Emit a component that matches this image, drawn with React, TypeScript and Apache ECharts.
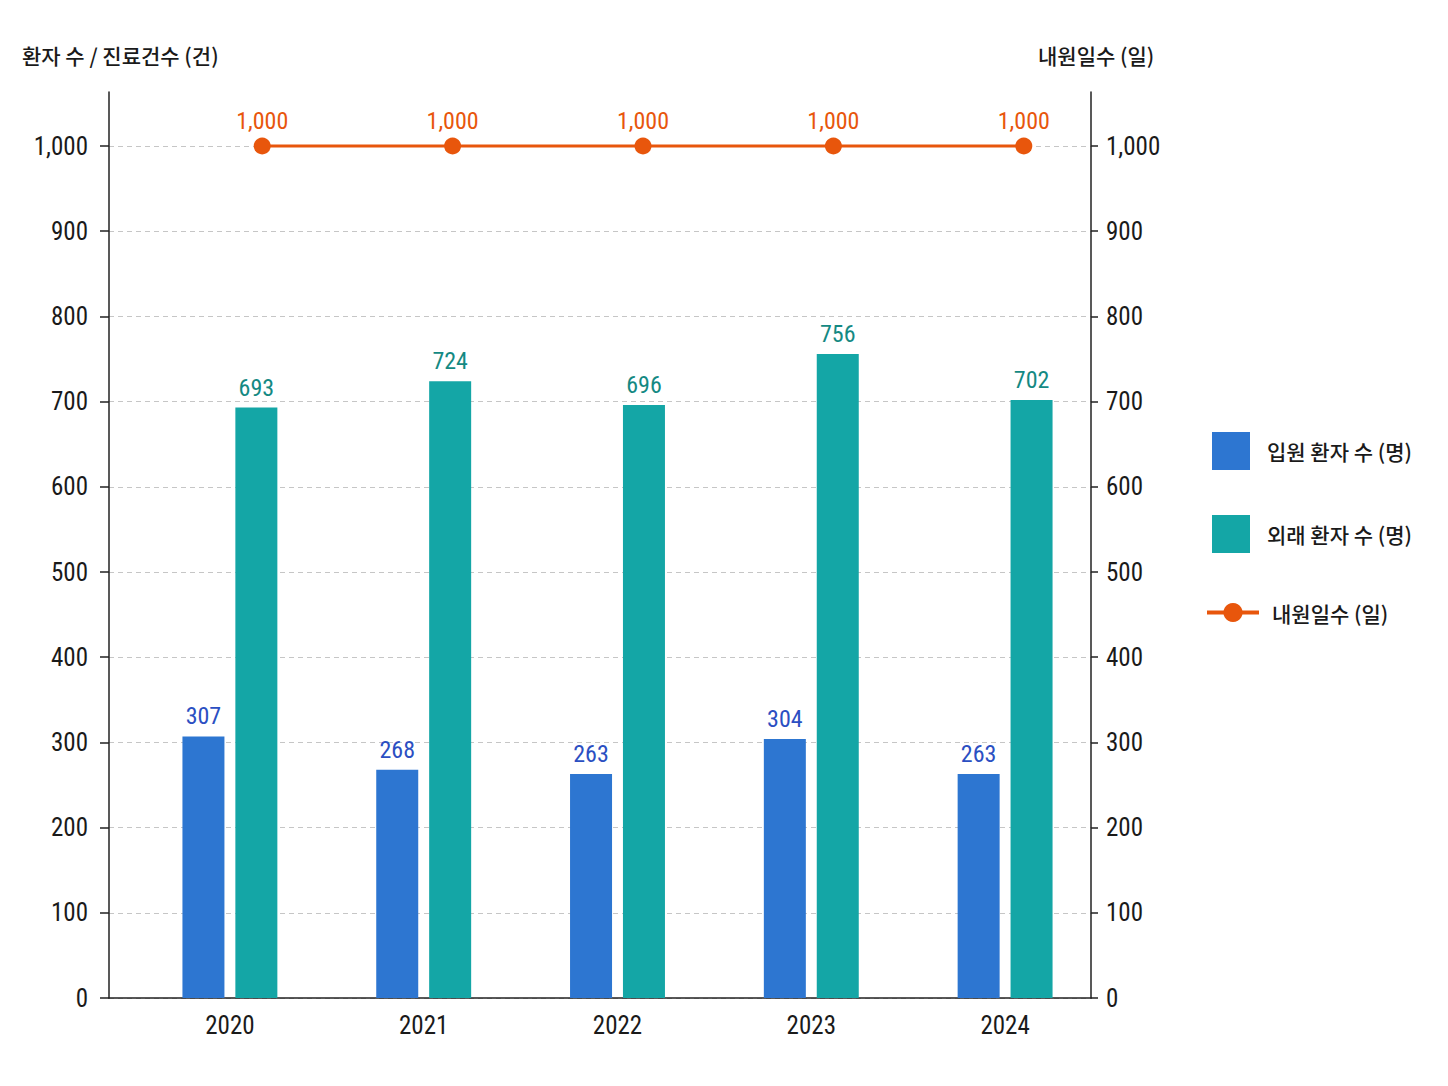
import React, { useEffect, useRef } from "react";
import * as echarts from "echarts";

const years = ["2020", "2021", "2022", "2023", "2024"];
const inpatients = [307, 268, 263, 304, 263];
const outpatients = [693, 724, 696, 756, 702];
const visitDays = [1000, 1000, 1000, 1000, 1000];
const axisMin = 0;
const axisMax = 1000;
const axisInterval = 100;

const seriesNames = ["입원 환자 수 (명)", "외래 환자 수 (명)", "내원일수 (일)"];
const leftAxisName = "환자 수 / 진료건수 (건)";
const rightAxisName = "내원일수 (일)";

const NUM_FONT = "'Roboto Condensed', 'Roboto', sans-serif";
const KR_FONT = "'Noto Sans CJK KR', 'Noto Sans', sans-serif";
const BLUE = "#2D76D1";
const TEAL = "#14A6A6";
const ORANGE = "#E8560C";

const fmt = (v: number) => v.toLocaleString("en-US");

export default function App() {
  const ref = useRef<HTMLDivElement>(null);
  useEffect(() => {
    document.body.style.margin = "0";
    if (!ref.current) return;
    const chart = echarts.init(ref.current, null, { renderer: "svg" });
    const hiddenCat = (gridIndex: number) => ({
      gridIndex,
      type: "category",
      data: years,
      show: false,
    });
    const hiddenVal = (gridIndex: number) => ({
      gridIndex,
      type: "value",
      min: axisMin,
      max: axisMax,
      show: false,
    });
    const tickLabel = {
      fontFamily: NUM_FONT,
      fontSize: 25,
      color: "#1a1a1a",
      formatter: (v: number) => fmt(v),
    };
    const krTitle = { fontFamily: KR_FONT, fontSize: 21, fontWeight: 500, color: "#1a1a1a" };
    chart.setOption({
      animation: false,
      backgroundColor: "#ffffff",
      title: [
        { text: leftAxisName, left: 22, top: 44, padding: 0, textStyle: krTitle },
        { text: rightAxisName, left: 1038, top: 44, padding: 0, textStyle: krTitle },
      ],
      legend: [
        {
          data: [seriesNames[0], seriesNames[1]],
          orient: "vertical",
          left: 1212,
          top: 432,
          padding: 0,
          itemWidth: 38,
          itemHeight: 38,
          itemGap: 45,
          icon: "rect",
          textStyle: { fontFamily: KR_FONT, fontSize: 21, fontWeight: 500, color: "#1a1a1a", padding: [0, 0, 0, 12] },
        },
        {
          data: [seriesNames[2]],
          orient: "vertical",
          left: 1205,
          top: 602,
          padding: 0,
          itemWidth: 52,
          itemHeight: 24,
          lineStyle: { width: 4 },
          textStyle: { fontFamily: KR_FONT, fontSize: 21, fontWeight: 500, color: "#1a1a1a", padding: [0, 0, 0, 8] },
        },
      ],
      grid: [
        { left: 109, right: 357, top: 92, bottom: 88 },
        { left: 109, right: 357, top: 146, bottom: 88 },
        { left: 133, right: 346, top: 146, bottom: 88 },
        { left: 167, right: 329, top: 146, bottom: 88 },
      ],
      xAxis: [
        {
          gridIndex: 0,
          type: "category",
          data: years,
          axisLine: { show: true, lineStyle: { color: "#222", width: 1.5 } },
          axisTick: { show: false },
          axisLabel: { show: false },
          splitLine: { show: false },
        },
        hiddenCat(1),
        {
          gridIndex: 2,
          type: "category",
          data: years,
          axisLine: { show: false },
          axisTick: { show: false },
          axisLabel: { fontFamily: NUM_FONT, fontSize: 25, color: "#1a1a1a", margin: 15 },
          splitLine: { show: false },
        },
        hiddenCat(3),
      ],
      yAxis: [
        {
          gridIndex: 0,
          type: "value",
          position: "left",
          min: 0,
          max: 1,
          axisLine: { show: true, lineStyle: { color: "#222", width: 1.5 } },
          axisTick: { show: false },
          axisLabel: { show: false },
          splitLine: { show: false },
        },
        {
          gridIndex: 0,
          type: "value",
          position: "right",
          min: 0,
          max: 1,
          axisLine: { show: true, lineStyle: { color: "#222", width: 1.5 } },
          axisTick: { show: false },
          axisLabel: { show: false },
          splitLine: { show: false },
        },
        {
          gridIndex: 1,
          type: "value",
          position: "left",
          min: axisMin,
          max: axisMax,
          interval: axisInterval,
          axisLine: { show: false },
          axisTick: { show: true, length: 9, lineStyle: { color: "#222", width: 1.5 } },
          axisLabel: { ...tickLabel, margin: 21 },
          splitLine: { show: true, lineStyle: { color: "#c6c6c6", width: 1, type: [5, 4] } },
        },
        {
          gridIndex: 1,
          type: "value",
          position: "right",
          min: axisMin,
          max: axisMax,
          interval: axisInterval,
          axisLine: { show: false },
          axisTick: { show: true, length: 7, lineStyle: { color: "#222", width: 1.5 } },
          axisLabel: { ...tickLabel, margin: 15 },
          splitLine: { show: false },
        },
        hiddenVal(2),
        hiddenVal(3),
      ],
      series: [
        {
          name: seriesNames[0],
          type: "bar",
          xAxisIndex: 2,
          yAxisIndex: 4,
          data: inpatients,
          barWidth: 42,
          barGap: "26%",
          itemStyle: { color: BLUE },
          label: {
            show: true,
            position: "top",
            distance: 8,
            fontFamily: NUM_FONT,
            fontSize: 24,
            color: "#2B4FC2",
          },
        },
        {
          name: seriesNames[1],
          type: "bar",
          xAxisIndex: 2,
          yAxisIndex: 4,
          data: outpatients,
          barWidth: 42,
          itemStyle: { color: TEAL },
          label: {
            show: true,
            position: "top",
            distance: 8,
            fontFamily: NUM_FONT,
            fontSize: 24,
            color: "#148983",
          },
        },
        {
          name: seriesNames[2],
          type: "line",
          xAxisIndex: 3,
          yAxisIndex: 5,
          data: visitDays,
          clip: false,
          symbol: "circle",
          symbolSize: 17,
          itemStyle: { color: ORANGE },
          lineStyle: { color: ORANGE, width: 3 },
          label: {
            show: true,
            position: "top",
            distance: 5,
            fontFamily: NUM_FONT,
            fontSize: 24,
            color: ORANGE,
            formatter: (p: any) => fmt(p.value),
          },
        },
      ],
    });
    return () => chart.dispose();
  }, []);
  return <div ref={ref} style={{ width: 1448, height: 1086 }} />;
}
